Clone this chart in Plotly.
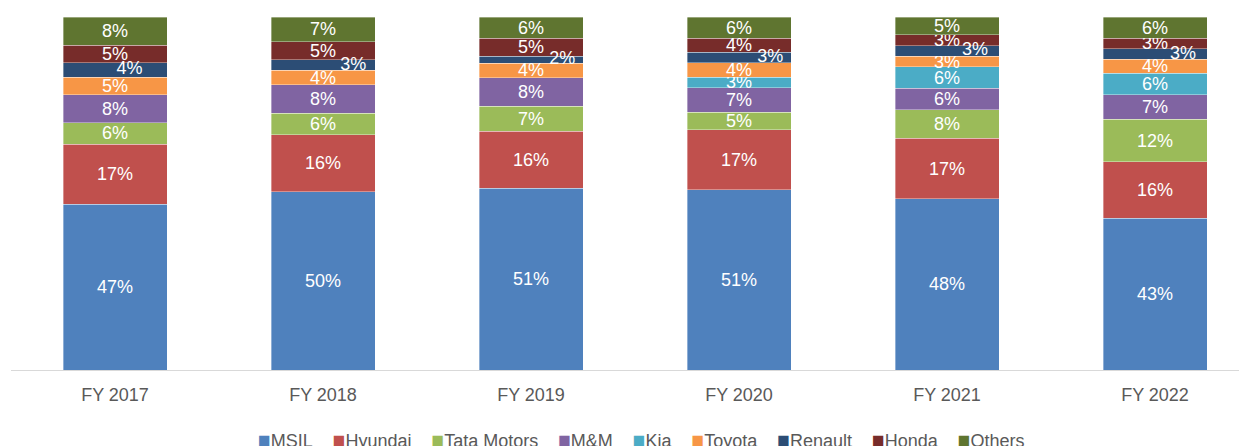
import plotly.graph_objects as go

categories = ["FY 2017", "FY 2018", "FY 2019", "FY 2020", "FY 2021", "FY 2022"]
series_names = ["MSIL", "Hyundai", "Tata Motors", "M&M", "Kia", "Toyota", "Renault", "Honda", "Others"]
msil = [47, 50, 51, 51, 48, 43]
hyundai = [17, 16, 16, 17, 17, 16]
tata_motors = [6, 6, 7, 5, 8, 12]
mm = [8, 8, 8, 7, 6, 7]
kia = [0, 0, 0, 3, 6, 6]
toyota = [5, 4, 4, 4, 3, 4]
renault = [4, 3, 2, 3, 3, 3]
honda = [5, 5, 5, 4, 3, 3]
others = [8, 7, 6, 6, 5, 6]

series_values = [msil, hyundai, tata_motors, mm, kia, toyota, renault, honda, others]
colors = ["#4F81BD", "#C0504D", "#9BBB59", "#8064A2", "#4BACC6",
          "#F79646", "#2C4D75", "#772C2A", "#5F7530"]

FONT = "Liberation Sans, Arial, sans-serif"
xs = list(range(len(categories)))
totals = [sum(s[i] for s in series_values) for i in xs]

fig = go.Figure()
base = [0.0] * len(xs)
renault_mid = []
for name, vals, col in zip(series_names, series_values, colors):
    share = [v / t * 100 for v, t in zip(vals, totals)]
    is_renault = name == "Renault"
    txt = ["" if (v == 0 or is_renault) else f"{v}%" for v in vals]
    if is_renault:
        renault_mid = [b + s / 2 for b, s in zip(base, share)]
    fig.add_trace(go.Bar(
        x=xs, y=share, name=name, text=txt,
        textposition="inside", insidetextanchor="middle", textangle=0,
        constraintext="none",
        textfont=dict(color="white", size=18, family=FONT),
        marker=dict(color=col, line=dict(color="rgba(255,255,255,0.45)", width=0.8)),
        showlegend=False, hoverinfo="skip",
    ))
    base = [b + s for b, s in zip(base, share)]

# Renault labels sit just to the right of the thin segments
label_offsets = [0.07, 0.145, 0.15, 0.15, 0.135, 0.135]
fig.add_trace(go.Scatter(
    x=[x + o for x, o in zip(xs, label_offsets)], y=renault_mid,
    mode="text", text=[f"{v}%" for v in renault],
    textfont=dict(color="white", size=18, family=FONT),
    showlegend=False, hoverinfo="skip",
))

legend_text = "\u00a0\u00a0\u00a0\u00a0".join(
    f"<span style='color:{c}; font-size:21px'>■</span>{n}" for n, c in zip(series_names, colors)
)
fig.add_annotation(
    text=legend_text, xref="paper", yref="paper", x=0.507, y=-0.197,
    xanchor="center", yanchor="middle", showarrow=False,
    font=dict(size=18, color="#595959", family=FONT),
)

# page body has an 8px default margin, so offsets are compensated here
fig.update_layout(
    barmode="stack", bargap=0.5,
    width=1247, height=446,
    margin=dict(l=3, r=0, t=9, b=84),
    plot_bgcolor="white", paper_bgcolor="white",
    font=dict(family=FONT, size=18, color="#595959"),
)
fig.update_xaxes(
    range=[-0.5, -0.5 + 1244 / 208], tickvals=xs, ticktext=categories,
    showline=True, linecolor="#D9D9D9", linewidth=1, showgrid=False,
    zeroline=False, ticks="", ticklabelstandoff=8,
    tickfont=dict(size=18, color="#595959", family=FONT),
)
fig.update_yaxes(range=[0, 100], visible=False, showgrid=False, zeroline=False)

fig.write_html("out.html")
